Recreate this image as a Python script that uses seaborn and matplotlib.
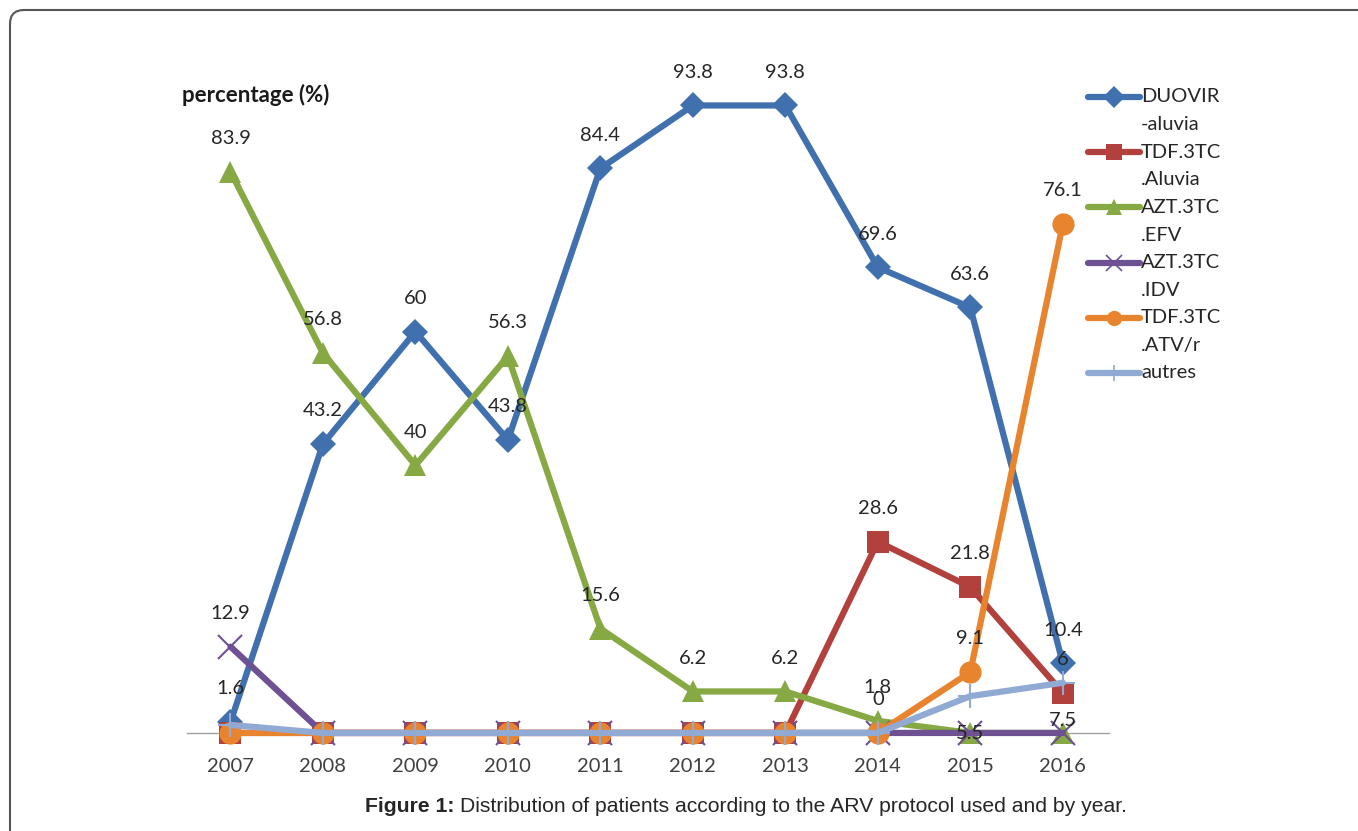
import pandas as pd
import seaborn as sns
import matplotlib.pyplot as plt
from matplotlib.lines import Line2D
from matplotlib.patches import FancyBboxPatch
from matplotlib.transforms import IdentityTransform

sns.set_style("white")
plt.rcParams['font.family'] = ['Lato', 'DejaVu Sans']

years = [2007, 2008, 2009, 2010, 2011, 2012, 2013, 2014, 2015, 2016]
series_names = ["DUOVIR\n-aluvia", "TDF.3TC\n.Aluvia", "AZT.3TC\n.EFV",
                "AZT.3TC\n.IDV", "TDF.3TC\n.ATV/r", "autres"]
duovir = [1.6, 43.2, 60, 43.8, 84.4, 93.8, 93.8, 69.6, 63.6, 10.4]
tdf_aluvia = [0, 0, 0, 0, 0, 0, 0, 28.6, 21.8, 6]
azt_efv = [83.9, 56.8, 40, 56.3, 15.6, 6.2, 6.2, 1.8, 0, 0]
azt_idv = [12.9, 0, 0, 0, 0, 0, 0, 0, 0, 0]
tdf_atv = [0, 0, 0, 0, 0, 0, 0, 0, 9.1, 76.1]
autres = [1.2, 0, 0, 0, 0, 0, 0, 0, 5.5, 7.5]
values = [duovir, tdf_aluvia, azt_efv, azt_idv, tdf_atv, autres]

# which points carry a data label (as on the original chart)
labelled = [
    [0, 1, 2, 3, 4, 5, 6, 7, 8, 9],
    [7, 8, 9],
    [0, 1, 2, 3, 4, 5, 6, 7],
    [0],
    [7, 8, 9],
    [8, 9],
]
label_offset = [24, 24, 24, 24, 24, -27]

colors = ["#4170AE", "#B2413E", "#86A943", "#6E5192", "#E9842E", "#90AAD4"]
markers = ["D", "s", "^", "x", "o", "+"]
msizes = [13, 16, 16, 17, 16, 17]

fig = plt.figure(figsize=(13.58, 8.31), dpi=100)
ax = fig.add_axes([0.1377, 0.118, 0.679, 0.805])

for name, vals, col, mk, ms in zip(series_names, values, colors, markers, msizes):
    df = pd.DataFrame({"year": years, "value": vals})
    sns.lineplot(data=df, x="year", y="value", ax=ax, color=col, linewidth=4.5,
                 marker=mk, markersize=ms, markeredgewidth=1.5 if mk in "x+" else 0,
                 markeredgecolor=col, legend=False)
for ln in ax.lines:
    ln.set_clip_on(False)

for vals, idx, off in zip(values, labelled, label_offset):
    for i in idx:
        v = vals[i]
        ax.annotate(f"{v:g}", (years[i], v), xytext=(0, off), textcoords="offset points",
                    ha="center", va="center", fontsize=14.5, color="#262626")

ax.set_xlim(2006.53, 2016.5)
ax.set_ylim(0, 100)
ax.set_xticks(years)
ax.set_xticklabels([str(y) for y in years], fontsize=14.5, color="#404040")
ax.set_yticks([])
ax.set_xlabel("")
ax.set_ylabel("")
ax.tick_params(axis="x", length=0, pad=18)
for s in ["top", "right", "left"]:
    ax.spines[s].set_visible(False)
ax.spines["bottom"].set_color("#A0A0A0")
ax.spines["bottom"].set_linewidth(1.0)
ax.spines["bottom"].set_zorder(0)

fig.text(182 / 1358, 1 - 95 / 831, "percentage (%)", fontsize=16, fontweight="bold",
         ha="left", va="center", color="#1a1a1a")

# legend drawn by hand so the marker sits on the first text line
for i, (name, col, mk) in enumerate(zip(series_names, colors, markers)):
    y = 1 - (97 + 55.2 * i) / 831
    fig.add_artist(Line2D([1088 / 1358, 1140 / 1358], [y, y], transform=fig.transFigure,
                          color=col, linewidth=4.5))
    fig.add_artist(Line2D([1114 / 1358], [y], transform=fig.transFigure, color=col,
                          marker=mk, markersize=11, markeredgewidth=1.2 if mk in "x+" else 0,
                          markeredgecolor=col))
    for k, part in enumerate(name.split("\n")):
        fig.text(1141 / 1358, y - k * 27.6 / 831, part, fontsize=14.5, color="#262626",
                 ha="left", va="center")

# caption
cap_y = 1 - 807 / 831
t1 = fig.text(365 / 1358, cap_y, "Figure 1:", fontsize=15.2, fontweight="bold",
              family=["Liberation Sans Narrow", "Liberation Sans"], ha="left", va="center")
fig.canvas.draw()
bb = t1.get_window_extent(fig.canvas.get_renderer())
fig.text((bb.x1 + 5) / 1358, cap_y, "Distribution of patients according to the ARV protocol used and by year.",
         fontsize=15.2, family=["Liberation Sans Narrow", "Liberation Sans"], ha="left", va="center")

# rounded frame
fig.add_artist(FancyBboxPatch((10, -60), 1450, 881, boxstyle="round,pad=0,rounding_size=14",
                              transform=IdentityTransform(), facecolor="none",
                              edgecolor="#555555", linewidth=1.5))

fig.savefig("out.png", dpi=100)
